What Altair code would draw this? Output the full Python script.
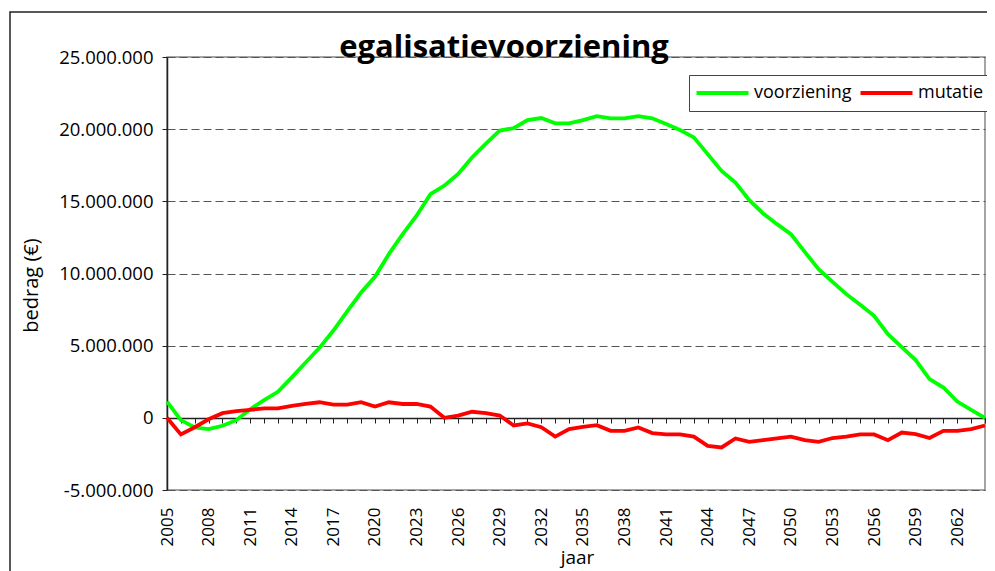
import altair as alt
import pandas as pd

# ---- data ----
years = list(range(2005, 2065))
label_years = list(range(2005, 2064, 3))
y_ticks = [-5000000, 0, 5000000, 10000000, 15000000, 20000000, 25000000]

voorziening = [
    1130000, -160000, -670000, -780000, -550000, -160000, 600000, 1230000, 1800000, 2800000,
    3830000, 4850000, 6050000, 7370000, 8680000, 9770000, 11340000, 12730000, 14000000, 15500000,
    16080000, 16900000, 18040000, 19000000, 19900000, 20070000, 20630000, 20770000, 20400000, 20400000,
    20630000, 20900000, 20750000, 20750000, 20900000, 20750000, 20350000, 19940000, 19430000, 18270000,
    17100000, 16300000, 15080000, 14160000, 13420000, 12730000, 11500000, 10300000, 9420000, 8570000,
    7830000, 7070000, 5800000, 4900000, 4000000, 2680000, 2100000, 1130000, 550000, 0,
]
mutatie = [
    0, -1150000, -650000, -100000, 320000, 460000, 550000, 660000, 660000, 830000,
    960000, 1080000, 920000, 920000, 1080000, 780000, 1080000, 960000, 960000, 780000,
    0, 160000, 420000, 320000, 160000, -530000, -390000, -650000, -1300000, -780000,
    -620000, -510000, -900000, -900000, -670000, -1060000, -1150000, -1150000, -1300000, -1940000,
    -2050000, -1430000, -1660000, -1550000, -1430000, -1300000, -1550000, -1660000, -1400000, -1300000,
    -1150000, -1150000, -1550000, -1020000, -1130000, -1400000, -900000, -900000, -780000, -530000,
]
series_names = ["voorziening", "mutatie"]
series_colors = ["#00FF00", "#FF0000"]

df = pd.DataFrame({
    "jaar": years + years,
    "reeks": [series_names[0]] * len(years) + [series_names[1]] * len(years),
    "bedrag": voorziening + mutatie,
})
years_df = pd.DataFrame({"jaar": years})

FONT = "Open Sans"
x_scale = alt.Scale(domain=[2005, 2064], nice=False, zero=False)
y_scale = alt.Scale(domain=[-5000000, 25000000], nice=False, zero=False)

label_expr = "replace(join(split(format(datum.value, ','), ','), '.'), '\u2212', '-')"

lines = alt.Chart(df).mark_line(strokeWidth=3.8).encode(
    x=alt.X("jaar:Q", scale=x_scale, axis=alt.Axis(
        orient="bottom", values=label_years, format="d", labelAngle=270,
        labelFont=FONT, labelFontSize=17, labelColor="#000", labelPadding=17,
        labelAlign="right", labelBaseline="middle",
        ticks=False, tickSize=0, domain=False, grid=False,
        labelOverlap=False, labelFlush=False, labelBound=False,
        title="jaar", titleFont=FONT, titleFontSize=19, titleFontWeight="normal",
        titleColor="#000", titleX=410, titleY=73, titleAlign="center",
        titleBaseline="alphabetic")),
    y=alt.Y("bedrag:Q", scale=y_scale, axis=alt.Axis(
        values=y_ticks, labelExpr=label_expr, labelFont=FONT, labelFontSize=18.5,
        labelColor="#000", labelPadding=9, tickSize=5, tickColor="#222",
        domainColor="#222", domainWidth=1.5, grid=True, gridDash=[8, 4],
        gridColor="#555", gridWidth=1,
        title="bedrag (€)", titleFont=FONT, titleFontSize=20, titleFontWeight="normal",
        titleColor="#000", titleX=-136, titleY=228, titleAngle=270,
        titleAlign="center", titleBaseline="middle")),
    color=alt.Color("reeks:N",
                    scale=alt.Scale(domain=series_names, range=series_colors),
                    legend=alt.Legend(
                        orient="none", legendX=522, legendY=18, direction="horizontal",
                        title=None, symbolType="M-4,0H4", symbolSize=169,
                        symbolOffset=15.5, symbolStrokeWidth=4,
                        labelFont=FONT, labelFontSize=18, labelOffset=22.5,
                        labelColor="#000", columnPadding=0,
                        padding=9, strokeColor="#444", fillColor="white")),
)

# axis line at zero with a tick for every year
zero_axis = alt.Chart(years_df).mark_rule(opacity=0).encode(
    x=alt.X("jaar:Q", scale=x_scale, axis=alt.Axis(
        orient="bottom", offset=-72, values=years, labels=False, ticks=True,
        tickSize=5, tickColor="#222", tickWidth=1, domain=True,
        domainColor="#222", domainWidth=1.5, grid=False, title=None)),
)

# outer chart-area frame
frame = alt.Chart(pd.DataFrame({"a": [0]})).mark_rect(
    fillOpacity=0, stroke="#222", strokeWidth=1.5
).encode(
    x=alt.value(-157), x2=alt.value(850), y=alt.value(-45), y2=alt.value(540)
)

title = alt.Chart(pd.DataFrame({"t": ["egalisatievoorziening"]})).mark_text(
    font=FONT, fontSize=31, fontWeight="bold", color="#000",
    align="center", baseline="alphabetic"
).encode(text="t:N", x=alt.value(337), y=alt.value(0))

chart = alt.layer(frame, zero_axis, lines, title).resolve_axis(
    x="independent"
).properties(
    width=818, height=433,
    padding={"left": 159, "top": 49, "right": 2, "bottom": 81},
    autosize=alt.AutoSizeParams(type="none"),
    background="white",
).configure_view(stroke="#888", strokeWidth=1.5)

chart.save("out.html", embed_options={"renderer": "svg", "actions": False})
